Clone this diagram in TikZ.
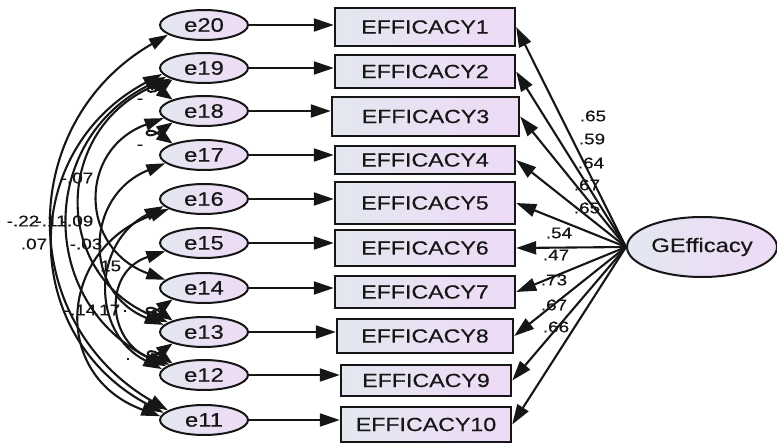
\documentclass[tikz,border=0pt]{standalone}
\usepackage{fontspec}
\setmainfont{Liberation Sans}[FakeStretch=1.22, FakeBold=0.4]
\usetikzlibrary{shapes.geometric, arrows.meta}
\definecolor{amosLeft}{HTML}{E3E7F0}
\definecolor{amosRight}{HTML}{EFDAF6}
\definecolor{amosInk}{HTML}{161616}

\begin{document}
\begin{tikzpicture}[x=1pt, y=1pt,
  err/.style={draw=amosInk, ellipse, line width=2pt, minimum width=88pt, minimum height=30pt, inner sep=0pt, left color=amosLeft, right color=amosRight, text=amosInk, font=\fontsize{19.5}{20}\selectfont},
  obs/.style={draw=amosInk, rectangle, line width=2.4pt, inner sep=0pt, left color=amosLeft, right color=amosRight, text=amosInk, font=\fontsize{19}{20}\selectfont},
  lat/.style={draw=amosInk, ellipse, line width=2pt, minimum width=150pt, minimum height=60pt, inner sep=0pt, left color=amosLeft, right color=amosRight, text=amosInk, font=\fontsize{19.5}{20}\selectfont},
  est/.style={inner sep=0pt, text=amosInk, font=\fontsize{15.5}{16}\selectfont},
  arr/.style={-{Triangle[length=20pt, width=13pt]}, line width=2.1pt, draw=amosInk},
  cov/.style={{Triangle[length=19pt, width=12pt]}-{Triangle[length=19pt, width=12pt]}, line width=2.1pt, draw=amosInk},
  covs/.style={{Triangle[length=16pt, width=12pt]}-{Triangle[length=16pt, width=12pt]}, line width=2pt, draw=amosInk}
]
\useasboundingbox (0,0) rectangle (777,-447);

% error terms
\node[err] (e20) at (204,-25) {e20};
\node[err] (e19) at (204,-68) {e19};
\node[err] (e18) at (204,-111) {e18};
\node[err] (e17) at (204,-155) {e17};
\node[err] (e16) at (204,-199) {e16};
\node[err] (e15) at (204,-243) {e15};
\node[err] (e14) at (204,-288) {e14};
\node[err] (e13) at (204,-332) {e13};
\node[err] (e12) at (204,-375) {e12};
\node[err] (e11) at (204,-420) {e11};

% observed items
\node[obs, minimum width=180pt, minimum height=38pt] (ef1) at (425,-27) {EFFICACY1};
\node[obs, minimum width=180pt, minimum height=33pt] (ef2) at (425,-71.5) {EFFICACY2};
\node[obs, minimum width=187pt, minimum height=39pt] (ef3) at (425.5,-116.5) {EFFICACY3};
\node[obs, minimum width=180pt, minimum height=28pt] (ef4) at (425,-160) {EFFICACY4};
\node[obs, minimum width=180pt, minimum height=42pt] (ef5) at (425,-203) {EFFICACY5};
\node[obs, minimum width=180pt, minimum height=36pt] (ef6) at (425,-248) {EFFICACY6};
\node[obs, minimum width=180pt, minimum height=32pt] (ef7) at (425,-292) {EFFICACY7};
\node[obs, minimum width=176pt, minimum height=34pt] (ef8) at (425,-336) {EFFICACY8};
\node[obs, minimum width=170pt, minimum height=31pt] (ef9) at (426,-380.5) {EFFICACY9};
\node[obs, minimum width=170pt, minimum height=35pt] (ef10) at (426,-424.5) {EFFICACY10};

% latent factor
\node[lat] (ge) at (702,-247) {GEfficacy};

% error paths
\draw[arr] (e20) -- (ef1.west |- e20);
\draw[arr] (e19) -- (ef2.west |- e19);
\draw[arr] (e18) -- (ef3.west |- e18);
\draw[arr] (e17) -- (ef4.west |- e17);
\draw[arr] (e16) -- (ef5.west |- e16);
\draw[arr] (e15) -- (ef6.west |- e15);
\draw[arr] (e14) -- (ef7.west |- e14);
\draw[arr] (e13) -- (ef8.west |- e13);
\draw[arr] (e12) -- (ef9.west |- e12);
\draw[arr] (e11) -- (ef10.west |- e11);

% loadings
\draw[arr] (ge.west) -- (ef1.east);
\draw[arr] (ge.west) -- (ef2.east);
\draw[arr] (ge.west) -- (ef3.east);
\draw[arr] (ge.west) -- (ef4.east);
\draw[arr] (ge.west) -- (ef5.east);
\draw[arr] (ge.west) -- (ef6.east);
\draw[arr] (ge.west) -- (ef7.east);
\draw[arr] (ge.west) -- (ef8.east);
\draw[arr] (ge.west) -- (ef9.east);
\draw[arr] (ge.west) -- (ef10.east);

\node[est] (w1) at (593,-116) {.65};
\node[est] (w2) at (592,-139) {.59};
\node[est] (w3) at (591,-163) {.64};
\node[est] (w4) at (587,-185) {.67};
\node[est] (w5) at (587,-208) {.65};
\node[est] (w6) at (559,-233) {.54};
\node[est] (w7) at (556,-255) {.47};
\node[est] (w8) at (554,-280) {.73};
\node[est] (w9) at (554,-305) {.67};
\node[est] (w10) at (556,-327) {.66};

% error covariances
\draw[cov] (e20.195) to[out=210, in=150, looseness=1.2] (e11.165);
\draw[cov] (e19.188) to[out=208, in=152, looseness=1.23] (e11.170);
\draw[cov] (e19.193) to[out=206, in=154, looseness=1.27] (e12.167);
\draw[cov] (e19.198) to[out=203, in=157, looseness=1.33] (e13.165);
\draw[cov] (e18.190) to[out=200, in=160, looseness=1.45] (e14.168);
\draw[cov] (e17.192) to[out=202, in=158, looseness=1.38] (e13.170);
\draw[cov] (e16.190) to[out=207, in=153, looseness=1.26] (e12.172);
\draw[cov] (e16.196) to[out=200, in=160, looseness=1.45] (e11.175);
\draw[cov] (e15.192) to[out=198, in=162, looseness=1.5] (e12.163);
\draw[covs] (e19.200) to[out=215, in=145, looseness=4.5] (e18.160);
\draw[covs] (e18.200) to[out=215, in=145, looseness=4.5] (e17.160);
\draw[covs] (e14.200) to[out=215, in=145, looseness=4.5] (e13.160);
\draw[covs] (e13.200) to[out=215, in=145, looseness=4.5] (e12.160);

\node[est] (c1) at (23,-221) {-.22};
\node[est] (c2) at (51,-221) {-.11};
\node[est] (c3) at (77,-221) {-.09};
\node[est] (c4) at (34,-244) {.07};
\node[est] (c5) at (77,-178) {-.07};
\node[est] (c6) at (86,-244) {-.03};
\node[est] (c7) at (108,-266) {.15};
\node[est] (c8) at (80,-310) {-.14};
\node[est] (c9) at (107,-310) {.17};
\node[est] (c10) at (140,-101) {-};
\node[est] (c11) at (140,-147) {-};
\node[est] (c12) at (125,-311) {.};
\node[est] (c13) at (128,-359) {.};
\end{tikzpicture}
\end{document}
